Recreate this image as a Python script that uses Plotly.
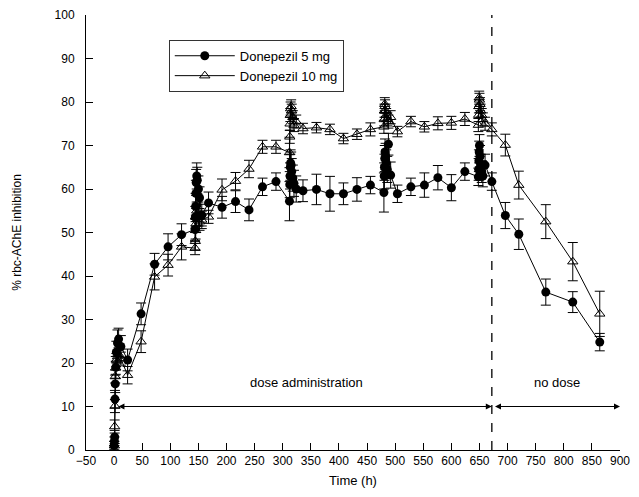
import plotly.graph_objects as go

# Sampling times (h)
TIME_H = [0, 0.5, 1, 1.5, 2, 3, 4, 6, 8, 12, 24,
          48, 72, 96, 120,
          144, 144.5, 145, 145.5, 146, 147, 148, 150, 152, 156, 168,
          192, 216, 240, 264, 288,
          312, 312.5, 313, 313.5, 314, 315, 316, 318, 320, 324, 336,
          360, 384, 408, 432, 456,
          480, 480.5, 481, 481.5, 482, 483, 484, 486, 488, 492, 504,
          528, 552, 576, 600, 624,
          648, 648.5, 649, 649.5, 650, 651, 652, 654, 656, 660, 672,
          696, 720, 768, 816, 864]

DON5 = [1.0, 2.0, 3.0, 11.7, 15.2, 19.0, 22.5, 24.6, 25.5, 23.8, 20.7,
        31.3, 42.7, 46.7, 49.5,
        50.7, 53.5, 56.0, 59.0, 61.5, 63.0, 62.0, 60.0, 58.0, 54.0, 56.8,
        55.8, 57.1, 55.2, 60.5, 61.7,
        57.2, 61.0, 63.0, 65.0, 66.0, 65.5, 64.0, 62.5, 61.3, 60.0, 59.6,
        59.9, 58.9, 58.9, 59.9, 60.9,
        59.2, 63.0, 65.0, 67.0, 68.5, 67.5, 66.0, 64.5, 70.3, 63.2, 58.9,
        60.5, 60.9, 62.6, 60.3, 64.0,
        62.8, 64.5, 66.5, 68.5, 70.0, 67.5, 65.5, 64.0, 63.0, 65.5, 61.7,
        53.9, 49.6, 36.3, 34.0, 24.8]

DON5_SE = [1.0, 1.0, 1.5, 2.0, 2.0, 2.5, 2.5, 3.0, 2.5, 2.5, 2.5,
           2.5, 2.5, 3.0, 2.5,
           2.5, 2.5, 3.0, 3.0, 3.0, 3.0, 3.0, 3.0, 2.5, 2.5, 2.5,
           2.5, 2.5, 2.5, 2.0, 2.0,
           4.5, 3.0, 3.0, 3.0, 3.0, 3.0, 3.0, 3.0, 3.0, 3.0, 2.5,
           3.5, 4.0, 2.5, 2.7, 2.0,
           4.5, 3.0, 3.0, 3.0, 3.0, 3.0, 3.0, 3.0, 2.5, 3.0, 2.0,
           2.0, 2.8, 2.8, 3.0, 2.0,
           2.0, 2.5, 2.5, 2.5, 2.5, 2.5, 2.5, 2.5, 2.5, 2.5, 2.0,
           3.0, 3.5, 3.0, 2.4, 2.0]

DON10 = [0.0, 1.0, 5.4, 10.1, 16.9, 18.9, 20.7, 21.5, 22.0, 21.0, 17.2,
         24.9, 39.8, 42.5, 46.7,
         46.4, 48.0, 50.5, 52.0, 53.5, 55.0, 54.5, 53.5, 52.5, 52.9, 53.6,
         59.8, 61.8, 64.6, 69.7, 69.7,
         68.4, 72.0, 75.0, 77.0, 78.5, 79.0, 78.0, 76.5, 74.7, 75.5, 73.9,
         74.1, 73.7, 71.6, 72.6, 73.7,
         74.3, 76.0, 78.0, 79.5, 79.0, 78.0, 77.0, 76.0, 75.5, 76.5, 73.2,
         75.5, 74.3, 75.1, 75.2, 76.1,
         74.7, 77.0, 79.0, 81.0, 80.5, 79.5, 78.0, 77.0, 76.0, 75.0, 73.7,
         70.1, 60.9, 52.5, 43.3, 31.3]

DON10_SE = [1.0, 1.0, 1.5, 1.5, 1.5, 1.5, 1.5, 1.5, 1.5, 1.5, 2.0,
            2.5, 3.0, 2.5, 3.0,
            1.5, 2.0, 2.0, 2.0, 2.0, 2.0, 2.0, 2.0, 2.0, 2.0, 1.5,
            2.5, 2.0, 2.0, 1.5, 1.5,
            3.5, 1.5, 1.5, 1.5, 1.5, 1.5, 1.5, 1.5, 1.5, 1.5, 1.2,
            1.2, 1.2, 1.2, 1.2, 1.5,
            1.5, 1.5, 1.5, 1.5, 1.5, 1.5, 1.5, 1.5, 1.5, 1.5, 1.2,
            1.2, 1.2, 1.5, 1.5, 1.5,
            1.5, 1.5, 1.5, 1.5, 1.5, 1.5, 1.5, 1.5, 1.5, 1.5, 1.5,
            2.5, 3.2, 3.9, 4.4, 5.2]

LAST_DOSE_END = 672
X_TICKS = list(range(-50, 901, 50))
Y_TICKS = list(range(0, 101, 10))

FONT = "Liberation Sans, Arial, sans-serif"

fig = go.Figure()

fig.add_trace(go.Scatter(
    x=TIME_H, y=DON5, mode="lines+markers", name="Donepezil 5 mg",
    line=dict(color="black", width=1),
    marker=dict(symbol="circle", size=9, color="black"),
    error_y=dict(type="data", array=DON5_SE, visible=True, color="black",
                 thickness=1, width=5),
))
fig.add_trace(go.Scatter(
    x=TIME_H, y=DON10, mode="lines+markers", name="Donepezil 10 mg",
    line=dict(color="black", width=1),
    marker=dict(symbol="triangle-up-open", size=9, color="black",
                line=dict(width=1, color="black")),
    error_y=dict(type="data", array=DON10_SE, visible=True, color="black",
                 thickness=1, width=5),
))

fig.add_shape(type="line", x0=LAST_DOSE_END, x1=LAST_DOSE_END, y0=0, y1=100,
              xref="x", yref="y", line=dict(color="black", width=1.3, dash="dash"))

# arrows
fig.add_annotation(x=LAST_DOSE_END, y=10, ax=5, ay=10, xref="x", yref="y",
                   axref="x", ayref="y", text="", showarrow=True,
                   arrowhead=2, arrowside="end+start", arrowsize=1.2,
                   arrowwidth=1, arrowcolor="black")
fig.add_annotation(x=900, y=10, ax=LAST_DOSE_END + 3, ay=10, xref="x", yref="y",
                   axref="x", ayref="y", text="", showarrow=True,
                   arrowhead=2, arrowside="end+start", arrowsize=1.2,
                   arrowwidth=1, arrowcolor="black")
fig.add_annotation(x=343, y=15.5, xref="x", yref="y", text="dose administration",
                   showarrow=False, font=dict(family=FONT, size=13, color="black"))
fig.add_annotation(x=788, y=15.5, xref="x", yref="y", text="no dose",
                   showarrow=False, font=dict(family=FONT, size=13, color="black"))

fig.update_layout(
    width=623, height=481,
    margin=dict(l=78, r=11, t=7, b=39, autoexpand=False),
    paper_bgcolor="white", plot_bgcolor="white",
    font=dict(family=FONT, size=12, color="black"),
    showlegend=True,
    legend=dict(x=0.155, y=0.943, xanchor="left", yanchor="top",
                bgcolor="white", bordercolor="#333", borderwidth=1,
                font=dict(family=FONT, size=13, color="black"),
                itemwidth=60, tracegroupgap=0),
)
fig.update_xaxes(range=[-50, 900], tickvals=X_TICKS, ticks="inside", ticklen=7,
                 tickcolor="black", showline=True, linecolor="black", linewidth=1,
                 showgrid=False, zeroline=False, mirror=False, automargin=False,
                 title=dict(text="Time (h)", font=dict(size=13), standoff=8),
                 tickfont=dict(size=12))
fig.update_yaxes(range=[0, 100], tickvals=Y_TICKS, ticks="inside", ticklen=7,
                 tickcolor="black", showline=True, linecolor="black", linewidth=1,
                 showgrid=False, zeroline=False, mirror=False, automargin=False,
                 ticklabelstandoff=8,
                 title=dict(text="% rbc-AChE inhibition", font=dict(size=12), standoff=30),
                 tickfont=dict(size=12))

fig.write_html("out.html")
